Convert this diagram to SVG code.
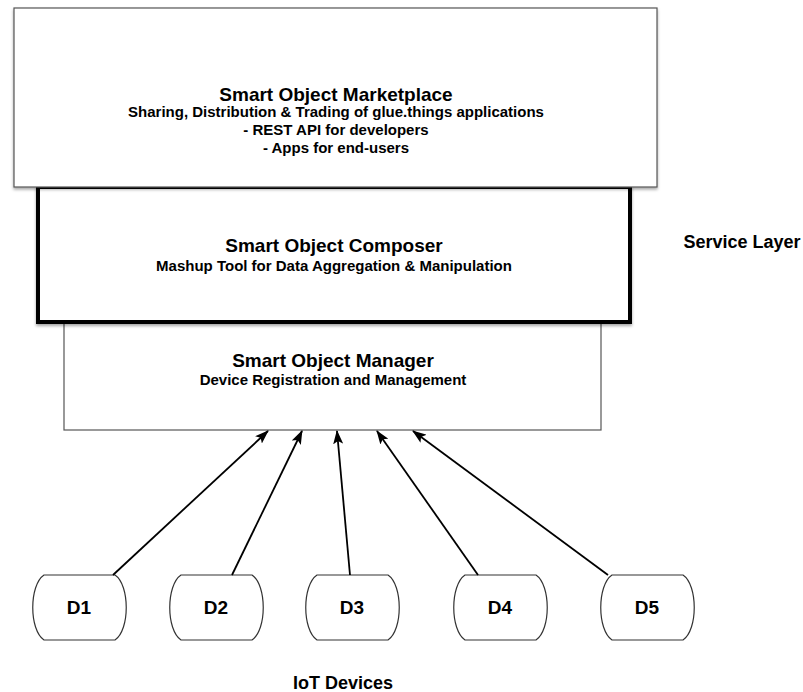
<svg xmlns="http://www.w3.org/2000/svg" width="803" height="692" viewBox="0 0 803 692">
<defs>
<style>
text{font-family:"Liberation Sans",Arial,sans-serif;font-weight:bold;fill:#000;text-anchor:middle}
.t{font-size:19px}
.s{font-size:15px}
.l{font-size:18px}
.d{font-size:19px}
.box{fill:#fff;stroke:#555;stroke-width:1.2}
.dev{fill:#fff;stroke:#333;stroke-width:1.2}
.conn line{stroke:#000;stroke-width:1.8}
</style>
<filter id="sh" x="-5%" y="-5%" width="110%" height="115%">
<feDropShadow dx="0" dy="2" stdDeviation="1.5" flood-color="#000" flood-opacity="0.35"/>
</filter>
<marker id="ah" markerWidth="14" markerHeight="10" refX="13" refY="5" orient="auto" markerUnits="userSpaceOnUse">
<path d="M0,0 L14,5 L0,10 L3,5 Z" fill="#000"/>
</marker>
</defs>
<rect width="803" height="692" fill="#fff"/>
<g id="manager">
<rect class="box" x="64" y="322" width="537" height="108"/>
<text class="t" x="333" y="367">Smart Object Manager</text>
<text class="s" x="333" y="385">Device Registration and Management</text>
</g>
<g id="composer">
<rect x="38" y="187" width="592" height="135" fill="#fff" stroke="#000" stroke-width="4" filter="url(#sh)"/>
<text class="t" x="334" y="252">Smart Object Composer</text>
<text class="s" x="334" y="271">Mashup Tool for Data Aggregation &amp; Manipulation</text>
</g>
<g id="marketplace">
<rect class="box" x="14" y="8" width="643" height="179" filter="url(#sh)"/>
<text class="t" x="336" y="101">Smart Object Marketplace</text>
<text class="s" x="336" y="117">Sharing, Distribution &amp; Trading of glue.things applications</text>
<text class="s" x="336" y="135">- REST API for developers</text>
<text class="s" x="336" y="153">- Apps for end-users</text>
</g>
<g id="service-layer">
<text class="l" x="742" y="248">Service Layer</text>
</g>
<g id="devices-label">
<text class="l" x="343" y="689">IoT Devices</text>
</g>
<g id="D1">
<path class="dev" d="M44,575 H115 C130,585 130,630 115,640 H44 C29,630 29,585 44,575 Z"/>
<text class="d" x="79" y="614">D1</text>
</g>
<g id="D2">
<path class="dev" d="M181,575 H252 C267,585 267,630 252,640 H181 C166,630 166,585 181,575 Z"/>
<text class="d" x="216" y="614">D2</text>
</g>
<g id="D3">
<path class="dev" d="M317,575 H388 C403,585 403,630 388,640 H317 C302,630 302,585 317,575 Z"/>
<text class="d" x="352" y="614">D3</text>
</g>
<g id="D4">
<path class="dev" d="M465,575 H536 C551,585 551,630 536,640 H465 C450,630 450,585 465,575 Z"/>
<text class="d" x="500" y="614">D4</text>
</g>
<g id="D5">
<path class="dev" d="M612,575 H683 C698,585 698,630 683,640 H612 C597,630 597,585 612,575 Z"/>
<text class="d" x="647" y="614">D5</text>
</g>
<g id="connectors" class="conn">
<line x1="113" y1="575" x2="268" y2="431" marker-end="url(#ah)"/>
<line x1="232" y1="575" x2="302" y2="431" marker-end="url(#ah)"/>
<line x1="350" y1="575" x2="337" y2="431" marker-end="url(#ah)"/>
<line x1="478" y1="575" x2="377" y2="431" marker-end="url(#ah)"/>
<line x1="608" y1="575" x2="413" y2="431" marker-end="url(#ah)"/>
</g>
</svg>
